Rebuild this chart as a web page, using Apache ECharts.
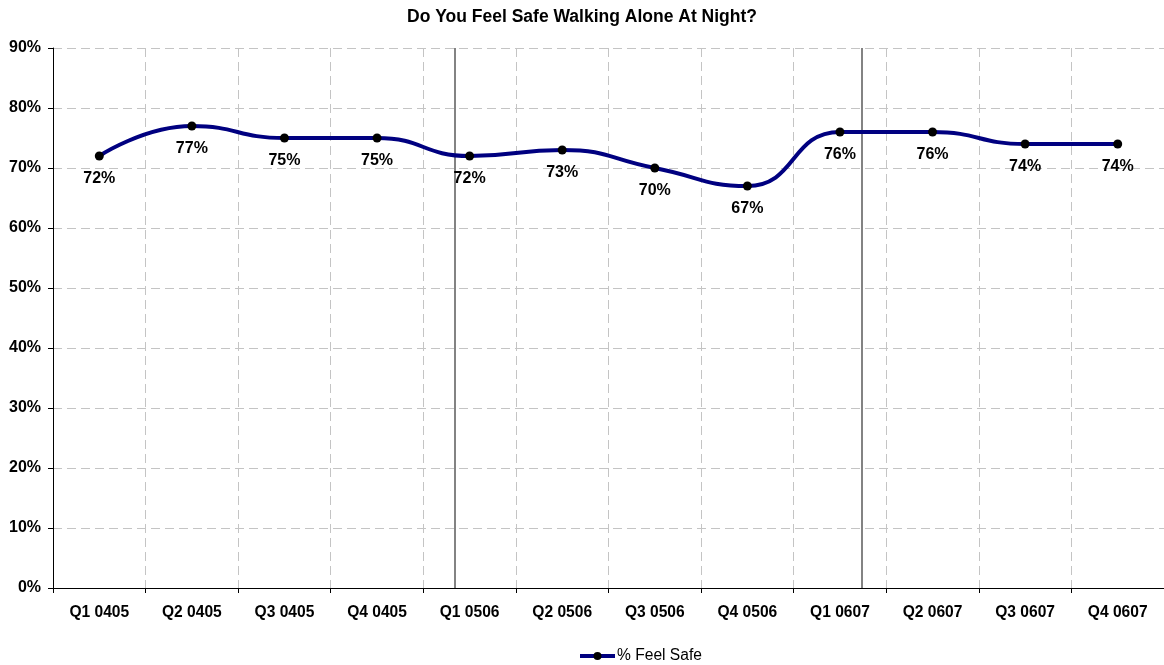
<!DOCTYPE html>
<html><head><meta charset="utf-8">
<script src="https://cdn.jsdelivr.net/npm/echarts@6/dist/echarts.min.js"></script>
<style>html,body{margin:0;padding:0;background:#fff}#c{width:1164px;height:665px}</style>
</head><body><div id="c"></div>
<script>
const categories = ['Q1 0405','Q2 0405','Q3 0405','Q4 0405','Q1 0506','Q2 0506','Q3 0506','Q4 0506','Q1 0607','Q2 0607','Q3 0607','Q4 0607'];
const feelSafe = [72,77,75,75,72,73,70,67,76,76,74,74];
const yTicks = [0,10,20,30,40,50,60,70,80,90];
const dividerPositions = [4.344, 8.73]; // in category-width units from the left axis
const F = 'Liberation Sans, Arial, sans-serif';
const chart = echarts.init(document.getElementById('c'));
chart.setOption({
  animation:false,
  title:{text:'Do You Feel Safe Walking Alone At Night?',left:'center',top:3,
    textStyle:{fontFamily:F,fontSize:17.5,fontWeight:'bold',color:'#000'}},
  grid:{left:53,width:1116,top:48,bottom:77},
  legend:{bottom:1,left:578,padding:0,itemWidth:35,itemHeight:10,itemGap:0,
    lineStyle:{width:4,color:'#000080'},
    textStyle:{fontFamily:F,fontSize:15.6,color:'#000',padding:[0,0,0,-3]},data:['% Feel Safe']},
  xAxis:[{type:'category',data:categories,boundaryGap:true,
    axisLine:{lineStyle:{color:'#000',width:1}},
    axisTick:{show:true,length:5,lineStyle:{color:'#000'}},
    axisLabel:{fontFamily:F,fontSize:15.6,fontWeight:'bold',color:'#000',margin:17},
    splitLine:{show:true,lineStyle:{color:'#c4c4c4',type:[9,5],width:1}}},
   {type:'value',min:0,max:12,show:false}],
  yAxis:{type:'value',min:yTicks[0],max:yTicks[yTicks.length-1],interval:10,
    axisLine:{show:true,lineStyle:{color:'#000'}},
    axisTick:{show:true,length:5,lineStyle:{color:'#000'}},
    axisLabel:{fontFamily:F,fontSize:16,fontWeight:'bold',color:'#000',margin:12,formatter:v=>v+'%'},
    splitLine:{show:true,lineStyle:{color:'#c4c4c4',type:[9,5],width:1}}},
  series:[{name:'% Feel Safe',type:'line',data:feelSafe,smooth:0.5,
    lineStyle:{color:'#000080',width:4},
    itemStyle:{color:'#000'},symbol:'circle',symbolSize:9,
    label:{show:true,position:'bottom',distance:10,formatter:p=>p.value+'%',
      fontFamily:F,fontSize:16,fontWeight:'bold',color:'#000'},z:5},
   {type:'line',xAxisIndex:1,data:[],silent:true,
    markLine:{symbol:'none',silent:true,label:{show:false},
      lineStyle:{color:'#5a5a5a',width:1.5,type:'solid'},
      data:dividerPositions.map(p=>[{coord:[p,0]},{coord:[p,90]}])}}]
});
</script></body></html>
